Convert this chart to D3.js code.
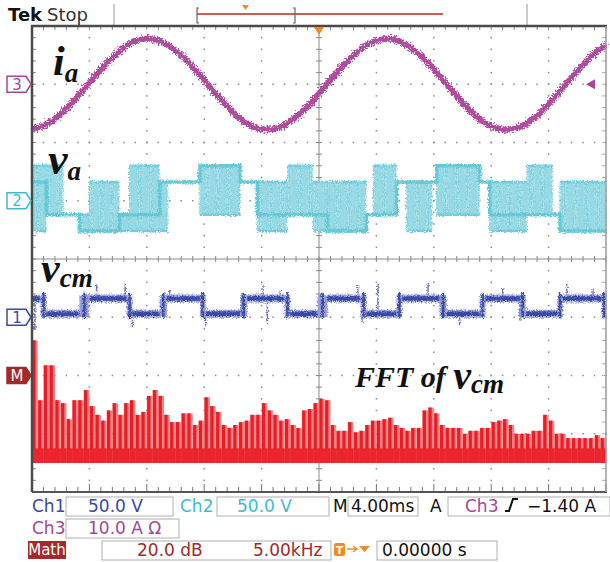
<!DOCTYPE html>
<html>
<head>
<meta charset="utf-8">
<script src="https://cdn.jsdelivr.net/npm/d3@7"></script>
<style>
  body { margin: 0; background: #fff; }
  svg { display: block; }
  .ui { font-family: 'DejaVu Sans', sans-serif; font-size: 17px; }
  .lbl { font-family: 'Liberation Serif', 'Times New Roman', serif; font-style: italic; font-weight: bold; fill: #111; }
</style>
</head>
<body>
<svg id="scope" width="610" height="562"></svg>
<script>
// horizontal: 4 ms/div, trigger in the middle of the screen
const timeDomain = [-20, 20];
const freqDomain = [0, 50]; // kHz, 5 kHz/div for the math (FFT) trace

// Ch3 - i_a (A), sampled every 1 ms
const iaTime = d3.range(-20, 20.5, 1);
const iaAmps = [-7.8, -6.9, -5.1, -2.6, 0.3, 3.1, 5.5, 7.2, 7.8, 7.3, 5.8, 3.5, 0.7, -2.2, -4.8, -6.8,
  -7.7, -7.6, -6.4, -4.3, -1.6, 1.3, 4.0, 6.2, 7.5, 7.8, 6.9, 5.1, 2.6, -0.3, -3.2, -5.6, -7.2, -7.8,
  -7.3, -5.8, -3.4, -0.6, 2.3, 4.9, 6.8];

// Ch2 - v_a (V): [t start, t end, band top, band bottom, dwell level]
const vaSegments = [
  [-20.0, -19.0, 30, -26, 16], [-19.0, -17.8, 30, -12, -12], [-17.8, -16.7, -12, -12, -12],
  [-16.7, -16.0, -12, -26, -26], [-16.0, -13.9, 16, -26, -26], [-13.9, -13.2, -12, -26, -12],
  [-13.2, -11.1, 30, -26, -12], [-11.1, -10.5, 16, -26, 16], [-10.5, -8.3, 16, 16, 16],
  [-8.3, -5.5, 30, -12, 30], [-5.5, -4.3, 16, 16, 16], [-4.3, -2.2, 16, -26, -12],
  [-2.2, -0.4, 30, -12, -12], [-0.4, 0.6, 16, -26, -12], [0.6, 3.3, 16, -26, -26],
  [3.3, 3.8, -12, -12, -12], [3.8, 5.4, 30, -12, -12], [5.4, 6.1, 16, 16, 16],
  [6.1, 7.9, 16, -26, 16], [7.9, 8.2, 16, 16, 16], [8.2, 11.2, 30, -12, 30],
  [11.2, 11.9, 16, 16, 16], [11.9, 14.5, 16, -26, -12], [14.5, 16.3, 30, -12, -12],
  [16.3, 16.8, -12, -12, -12], [16.8, 20.0, 16, -26, -26],
];

// Ch1 - v_cm (V): plateaus [t start, t end, level]
const vcmPlateaus = [
  [-20, -19.4, 16], [-19, -16.7, 3], [-16, -13.4, 16], [-13, -11.1, 3], [-10.6, -8.3, 16],
  [-7.9, -5.5, 3], [-5, -2.4, 16], [-2, -0.1, 3], [0.6, 2.9, 16], [3.3, 5.4, 3],
  [5.8, 8.4, 16], [8.9, 11.2, 3], [11.6, 14, 16], [14.4, 16.6, 3], [17, 19.7, 16],
];
const vcmSpikeTime = [-15.5, -13.5, -10.4, -3.9, -2.7, 2.7, 4.1, 7.6, 12.8, 17.3, 19.1,
  -19.8, -13.0, -7.9, -3.6, 3.0, 9.8, 14.0];
const vcmSpikeVolt = [29, 29, 23, 28, 23, 28, 29, 30, 25, 29, 25,
  -11, -9, -7, -5, -5, -7, -3];

// Math - FFT of v_cm (dB), one bin every 0.5 kHz
const fftFreq = d3.range(0, 50, 0.5);
const fftDb = [12, -8.5, 3.5, 3.5, -8.5, -9.5, -15, -8.5, -8.5, -5, -10.5, -13.5, -15.5, -12, -9.5,
  -13.5, -9.5, -8.5, -13.5, -12.5, -7, -5, -7, -13.5, -16, -16, -13, -13, -17, -15.5, -7.5, -10.5,
  -12.5, -17, -18, -17, -16, -15.5, -13.5, -13.5, -9.5, -12, -13.5, -15.5, -15, -17, -18, -12,
  -11.5, -9.5, -8, -8.5, -17, -19, -19, -16, -19.5, -19, -17, -15.5, -15.5, -15, -14.5, -17, -18,
  -19, -18, -18, -12, -11, -13, -17, -18, -18, -18, -20, -19, -19, -18, -18, -16, -15.5, -15, -17,
  -20, -20, -20, -19, -19, -13.5, -15.5, -20, -20, -21.5, -21.5, -21.5, -21.5, -21.5, -20.5, -21.5];
const fftFloor = -30;

const svg = d3.select('#scope');
const plot = { left: 32, top: 26, right: 606, bottom: 492 };

const x = d3.scaleLinear().domain(timeDomain).range([plot.left, plot.right]);
const xF = d3.scaleLinear().domain(freqDomain).range([plot.left, plot.right]);
const yDiv = d3.scaleLinear().domain([4, -4]).range([plot.top, plot.bottom]);

// channel position (div from centre) and scale per div
function chScale(offset, perDiv) {
  return d3.scaleLinear().domain([0, perDiv]).range([yDiv(offset), yDiv(offset + 1)]);
}
const yCh3 = chScale(3, 10);
const yCh2 = chScale(1, 50);
const yCh1 = chScale(-1, 50);
const yMath = chScale(-2, 20);

const colCh1 = '#3a48a6';
const colCh2 = '#3fbccb';
const colCh3 = '#a8459b';
const colMath = '#a3292b';

// noise filter for the fuzzy traces
const defs = svg.append('defs');
function fuzz(id, scale, seed, freq) {
  const f = defs.append('filter').attr('id', id)
    .attr('x', '-5%').attr('y', '-20%').attr('width', '110%').attr('height', '140%');
  f.append('feTurbulence').attr('type', 'fractalNoise').attr('baseFrequency', freq)
    .attr('numOctaves', 2).attr('seed', seed).attr('result', 'noise');
  f.append('feDisplacementMap').attr('in', 'SourceGraphic').attr('in2', 'noise')
    .attr('scale', scale).attr('xChannelSelector', 'R').attr('yChannelSelector', 'G');
}
fuzz('fz1', 8, 3, 0.7);
fuzz('fz2', 5, 7, 0.8);

// ---------- header ----------
const head = svg.append('g').attr('class', 'ui');
head.append('text').attr('x', 8).attr('y', 21).attr('font-weight', 'bold').attr('font-size', 18)
  .attr('fill', '#111').text('Tek');
head.append('text').attr('x', 47).attr('y', 21).attr('font-size', 18).attr('fill', '#333').text('Stop');
[114, 527].forEach((sx) => {
  head.append('line').attr('x1', sx).attr('x2', sx).attr('y1', 4).attr('y2', 25)
    .attr('stroke', '#999').attr('stroke-width', 1);
});
head.append('line').attr('x1', 197).attr('x2', 443).attr('y1', 14).attr('y2', 14)
  .attr('stroke', '#d55a55').attr('stroke-width', 1.8);
head.append('path').attr('d', 'M199,8 H197 V23 H199 M293,8 H295 V23 H293')
  .attr('fill', 'none').attr('stroke', '#666').attr('stroke-width', 1.2);
head.append('path').attr('d', 'M242,5 L249,5 L245.5,10 Z').attr('fill', '#f08a24');

// ---------- graticule ----------
const grid = svg.append('g');
const minorT = d3.range(-20, 20.01, 0.8);
const minorD = d3.range(-4, 4.01, 0.2);

d3.range(-16, 17, 4).filter(t => t !== 0).forEach((t) => {
  grid.selectAll(null).data(minorD).enter().append('rect')
    .attr('x', x(t) - 0.75).attr('y', d => yDiv(d) - 0.75)
    .attr('width', 1.5).attr('height', 1.5).attr('fill', '#8a8a8a');
});
d3.range(-3, 4, 1).filter(d => d !== 0).forEach((d) => {
  grid.selectAll(null).data(minorT).enter().append('rect')
    .attr('x', t => x(t) - 0.75).attr('y', yDiv(d) - 0.75)
    .attr('width', 1.5).attr('height', 1.5).attr('fill', '#8a8a8a');
});

// centre cross with ticks
grid.append('line').attr('x1', plot.left).attr('x2', plot.right).attr('y1', yDiv(0)).attr('y2', yDiv(0))
  .attr('stroke', '#8a8a8a').attr('stroke-width', 1);
grid.append('line').attr('x1', x(0)).attr('x2', x(0)).attr('y1', plot.top).attr('y2', plot.bottom)
  .attr('stroke', '#8a8a8a').attr('stroke-width', 1);
grid.selectAll(null).data(minorT).enter().append('line')
  .attr('x1', t => x(t)).attr('x2', t => x(t))
  .attr('y1', yDiv(0) - 3).attr('y2', yDiv(0) + 3)
  .attr('stroke', '#8a8a8a').attr('stroke-width', 1);
grid.selectAll(null).data(minorD).enter().append('line')
  .attr('x1', x(0) - 3).attr('x2', x(0) + 3)
  .attr('y1', d => yDiv(d)).attr('y2', d => yDiv(d))
  .attr('stroke', '#8a8a8a').attr('stroke-width', 1);

// border ticks
grid.selectAll(null).data(minorT).enter().append('line')
  .attr('x1', t => x(t)).attr('x2', t => x(t))
  .attr('y1', plot.top).attr('y2', plot.top + 4)
  .attr('stroke', '#888').attr('stroke-width', 1);
grid.selectAll(null).data(minorT).enter().append('line')
  .attr('x1', t => x(t)).attr('x2', t => x(t))
  .attr('y1', plot.bottom).attr('y2', (t, i) => plot.bottom - (i % 5 === 0 ? 8 : 5))
  .attr('stroke', '#777').attr('stroke-width', 1);
grid.selectAll(null).data(minorD).enter().append('line')
  .attr('x1', plot.left).attr('x2', plot.left + 4)
  .attr('y1', d => yDiv(d)).attr('y2', d => yDiv(d))
  .attr('stroke', '#888').attr('stroke-width', 1);
grid.selectAll(null).data(minorD).enter().append('line')
  .attr('x1', plot.right).attr('x2', plot.right - 4)
  .attr('y1', d => yDiv(d)).attr('y2', d => yDiv(d))
  .attr('stroke', '#aaa').attr('stroke-width', 1);

// ---------- Math: FFT of v_cm ----------
const fft = svg.append('g');
const binW = xF(0.5) - xF(0);
const baseDb = -25;
fft.selectAll(null).data(fftFreq).enter().append('rect')
  .attr('x', f => xF(f)).attr('width', binW)
  .attr('y', (f, i) => yMath(fftDb[i]))
  .attr('height', (f, i) => yMath(fftFloor) - yMath(fftDb[i]))
  .attr('fill', '#f38385');
fft.selectAll(null).data(fftFreq).enter().append('rect')
  .attr('x', f => xF(f) + 0.4).attr('width', 3.2)
  .attr('y', (f, i) => yMath(fftDb[i]))
  .attr('height', (f, i) => yMath(fftFloor) - yMath(fftDb[i]))
  .attr('fill', '#e81d25');
fft.selectAll(null).data(fftFreq).enter().append('rect')
  .attr('x', f => xF(f)).attr('width', binW + 0.2)
  .attr('y', (f, i) => yMath(Math.min(fftDb[i], baseDb)))
  .attr('height', (f, i) => yMath(fftFloor) - yMath(Math.min(fftDb[i], baseDb)))
  .attr('fill', '#e9262d');

// ---------- Ch1: v_cm ----------
const vcm = svg.append('g').attr('filter', 'url(#fz2)');
const vcmLevelAt = (t) => {
  const p = vcmPlateaus.find(s => t >= s[0] && t <= s[1]);
  return p ? p[2] : 9.5;
};
vcm.selectAll(null).data(vcmSpikeTime).enter().append('line')
  .attr('x1', t => x(t)).attr('x2', t => x(t))
  .attr('y1', t => yCh1(vcmLevelAt(t)))
  .attr('y2', (t, i) => yCh1(vcmSpikeVolt[i]))
  .attr('stroke', '#6f78c4').attr('stroke-width', 1.5);
// switching bands between plateaus
const vcmGaps = vcmPlateaus.map((p, i) => [p[1], i + 1 < vcmPlateaus.length ? vcmPlateaus[i + 1][0] : timeDomain[1]]);
vcm.selectAll(null).data(vcmGaps).enter().append('rect')
  .attr('x', g => x(g[0])).attr('width', g => x(g[1]) - x(g[0]))
  .attr('y', yCh1(19)).attr('height', yCh1(0) - yCh1(19))
  .attr('fill', '#959bd6');
vcm.selectAll(null).data(vcmGaps).enter().append('line')
  .attr('x1', g => x((g[0] + g[1]) / 2)).attr('x2', g => x((g[0] + g[1]) / 2))
  .attr('y1', yCh1(21)).attr('y2', yCh1(-1))
  .attr('stroke', colCh1).attr('stroke-width', 2.5);
vcm.selectAll(null).data(vcmPlateaus).enter().append('line')
  .attr('x1', p => x(p[0])).attr('x2', p => x(p[1]))
  .attr('y1', p => yCh1(p[2])).attr('y2', p => yCh1(p[2]))
  .attr('stroke', '#9aa0d8').attr('stroke-width', 8);
vcm.selectAll(null).data(vcmPlateaus).enter().append('line')
  .attr('x1', p => x(p[0])).attr('x2', p => x(p[1]))
  .attr('y1', p => yCh1(p[2])).attr('y2', p => yCh1(p[2]))
  .attr('stroke', colCh1).attr('stroke-width', 4.5);

// ---------- Ch2: v_a ----------
const va = svg.append('g').attr('filter', 'url(#fz2)');
const vaBands = vaSegments.filter(s => s[2] !== s[3]);
va.selectAll(null).data(vaBands).enter().append('rect')
  .attr('x', s => x(s[0])).attr('width', s => x(s[1]) - x(s[0]))
  .attr('y', s => yCh2(s[2])).attr('height', s => yCh2(s[3]) - yCh2(s[2]))
  .attr('fill', '#a9dfe8');
vaBands.forEach((s) => {
  va.selectAll(null).data(d3.range(x(s[0]), x(s[1]), 2.2)).enter().append('line')
    .attr('x1', d => d).attr('x2', d => d)
    .attr('y1', yCh2(s[2])).attr('y2', yCh2(s[3]))
    .attr('stroke', '#82d2de').attr('stroke-width', 1);
});
va.selectAll(null).data(vaBands).enter().append('path')
  .attr('d', s => `M${x(s[0])},${yCh2(s[2])}H${x(s[1])}M${x(s[0])},${yCh2(s[3])}H${x(s[1])}`)
  .attr('stroke', '#72ccd9').attr('stroke-width', 2.5).attr('fill', 'none');
va.append('path')
  .attr('d', d3.line().curve(d3.curveStepAfter)
    .x(d => x(d[0])).y(d => yCh2(d[4]))(vaSegments.concat([[timeDomain[1], 0, 0, 0, vaSegments[vaSegments.length - 1][4]]])))
  .attr('fill', 'none').attr('stroke', '#66c8d6').attr('stroke-width', 3.5);

// ---------- Ch3: i_a ----------
svg.append('path')
  .datum(iaTime.map((t, i) => [t, iaAmps[i]]))
  .attr('d', d3.line().curve(d3.curveCatmullRom).x(d => x(d[0])).y(d => yCh3(d[1])))
  .attr('fill', 'none').attr('stroke', '#b04c9f').attr('stroke-width', 6)
  .attr('filter', 'url(#fz1)');

// ---------- frame ----------
const frame = svg.append('g');
frame.append('line').attr('x1', plot.left - 1).attr('x2', plot.right + 1).attr('y1', plot.top).attr('y2', plot.top)
  .attr('stroke', '#4a4a4a').attr('stroke-width', 2.5);
frame.append('line').attr('x1', plot.left).attr('x2', plot.left).attr('y1', plot.top).attr('y2', plot.bottom)
  .attr('stroke', '#4a4a4a').attr('stroke-width', 2.5);
frame.append('line').attr('x1', plot.left).attr('x2', plot.right + 1).attr('y1', plot.bottom).attr('y2', plot.bottom)
  .attr('stroke', '#555').attr('stroke-width', 2);
frame.append('line').attr('x1', plot.right).attr('x2', plot.right).attr('y1', plot.top).attr('y2', plot.bottom)
  .attr('stroke', '#999').attr('stroke-width', 1.5);

// trigger position and level
frame.append('path').attr('d', `M${x(0) - 5},${plot.top + 1} L${x(0) + 5},${plot.top + 1} L${x(0)},${plot.top + 9} Z`)
  .attr('fill', '#f08a24');
frame.append('path').attr('d', `M${plot.right - 20},${yCh3(0)} L${plot.right - 11},${yCh3(0) - 5} L${plot.right - 11},${yCh3(0) + 5} Z`)
  .attr('fill', colCh3);

// channel markers
const markers = [
  { label: '3', y: yCh3(0), color: colCh3, fill: false },
  { label: '2', y: yCh2(0), color: colCh2, fill: false },
  { label: '1', y: yCh1(0), color: colCh1, fill: false },
  { label: 'M', y: yMath(0), color: colMath, fill: true },
];
const mk = svg.append('g').attr('class', 'ui');
markers.forEach((m) => {
  mk.append('path')
    .attr('d', `M7,${m.y - 8} H26 L31,${m.y} L26,${m.y + 8} H7 Z`)
    .attr('fill', m.fill ? m.color : '#fff').attr('stroke', m.color).attr('stroke-width', 1.5);
  mk.append('text').attr('x', 17).attr('y', m.y + 5.5).attr('text-anchor', 'middle')
    .attr('font-size', 15).attr('fill', m.fill ? '#fff' : m.color).text(m.label);
});

// ---------- waveform labels ----------
const lbl = svg.append('g').attr('class', 'lbl');
function label(xp, yp, main, sub, size, subSize, subDy) {
  const t = lbl.append('text').attr('x', xp).attr('y', yp);
  t.append('tspan').attr('font-size', size).text(main);
  t.append('tspan').attr('font-size', subSize).attr('dy', subDy).text(sub);
}
label(53, 75, 'i', 'a', 42, 27, 7);
label(48, 174, 'v', 'a', 44, 27, 6);
label(41, 282, 'v', 'cm', 42, 27, 5);
const fftLbl = lbl.append('text').attr('x', 355).attr('y', 387);
fftLbl.append('tspan').attr('font-size', 30).text('FFT of ');
fftLbl.append('tspan').attr('font-size', 40).attr('dy', 2).text('v');
fftLbl.append('tspan').attr('font-size', 27).attr('dy', 4).text('cm');

// ---------- readout ----------
const ro = svg.append('g').attr('class', 'ui');
const boxes = [
  [66, 497, 107, 19], [217, 497, 112, 19], [348, 497, 70, 19], [448, 497, 162, 19],
  [66, 519, 113, 19], [102, 541, 229, 19], [377, 541, 120, 19],
];
ro.selectAll(null).data(boxes).enter().append('rect')
  .attr('x', b => b[0]).attr('y', b => b[1]).attr('width', b => b[2]).attr('height', b => b[3])
  .attr('fill', '#fff').attr('stroke', '#b0b0b0').attr('stroke-width', 1);
const readout = [
  [32, 512, 'Ch1', colCh1], [88, 512, '50.0 V', colCh1],
  [180, 512, 'Ch2', colCh2], [237, 512, '50.0 V', colCh2],
  [333, 512, 'M', '#111'], [351, 512, '4.00ms', '#111'],
  [430, 512, 'A', '#111'], [465, 512, 'Ch3', colCh3], [527, 512, '\u22121.40 A', '#111'],
  [32, 534, 'Ch3', colCh3], [88, 534, '10.0 A \u03a9', colCh3],
  [137, 556, '20.0 dB', colMath], [253, 556, '5.00kHz', colMath],
  [382, 556, '0.00000 s', '#111'],
];
ro.selectAll(null).data(readout).enter().append('text')
  .attr('x', r => r[0]).attr('y', r => r[1]).attr('fill', r => r[3]).text(r => r[2]);
// trigger slope glyph
ro.append('path').attr('d', 'M505,511 H509 L513,499 H518').attr('fill', 'none')
  .attr('stroke', '#111').attr('stroke-width', 2);
// math tag
ro.append('rect').attr('x', 28).attr('y', 541).attr('width', 38).attr('height', 18).attr('fill', colMath);
ro.append('text').attr('x', 47).attr('y', 555).attr('text-anchor', 'middle').attr('font-size', 15)
  .attr('fill', '#fff').text('Math');
// trigger-to-centre icon
ro.append('rect').attr('x', 334).attr('y', 543).attr('width', 11).attr('height', 13).attr('rx', 2).attr('fill', '#f08a24');
ro.append('text').attr('x', 339.5).attr('y', 554).attr('text-anchor', 'middle').attr('font-size', 11)
  .attr('font-weight', 'bold').attr('fill', '#fff').text('T');
ro.append('path').attr('d', 'M347,549 H356 M353,546 L357,549 L353,552').attr('fill', 'none')
  .attr('stroke', '#f08a24').attr('stroke-width', 1.3);
ro.append('path').attr('d', 'M359,546 H370 L364.5,552 Z').attr('fill', '#f08a24');
</script>
</body>
</html>
